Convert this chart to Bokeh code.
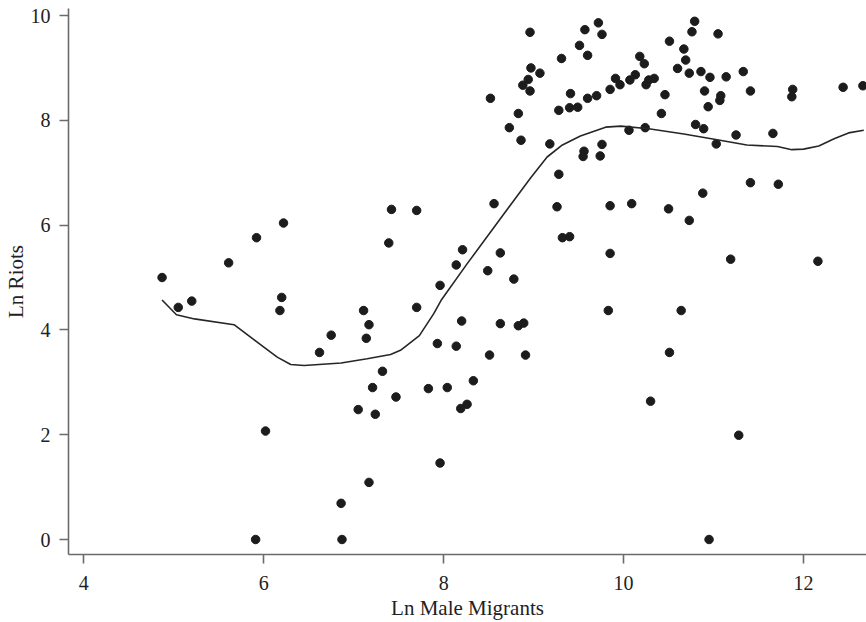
from bokeh.plotting import figure
from bokeh.models import Range1d, FixedTicker
from bokeh.embed import file_html
from bokeh.resources import INLINE

# ---- data ----
migrants = [4.87, 5.05, 5.20, 5.61, 5.92, 5.91, 6.02, 6.22, 6.20, 6.18,
            6.75, 6.62, 6.86, 6.87, 7.17, 7.96, 7.42, 7.70, 7.39, 8.56,
            8.21, 8.14, 7.96, 7.70, 8.63, 8.49, 7.11, 7.17, 7.14, 8.20,
            7.93, 8.14, 8.51, 8.63, 7.32, 7.21, 7.47, 7.83, 8.04, 8.33,
            8.19, 8.26, 7.05, 7.24, 8.91, 8.83, 8.89, 8.78, 8.96, 8.52,
            8.83, 8.73, 8.86, 9.18, 9.28, 8.97, 9.07, 8.94, 8.88, 8.96,
            9.31, 9.51, 9.57, 9.72, 9.76, 9.60, 9.41, 9.28, 9.40, 9.49,
            9.60, 9.70, 9.85, 9.91, 9.96, 10.07, 10.13, 10.18, 10.23, 10.25,
            10.28, 10.34, 10.46, 10.42, 10.51, 10.60, 10.06, 10.24, 9.56, 9.55,
            9.76, 9.74, 10.67, 10.69, 10.73, 10.76, 10.79, 10.86, 10.96, 10.90,
            11.05, 11.14, 11.33, 11.08, 11.07, 10.94, 11.41, 11.88, 11.87, 12.44,
            12.66, 10.80, 10.89, 11.03, 11.25, 11.66, 9.26, 9.85, 10.09, 10.50,
            10.73, 10.88, 11.41, 11.72, 9.32, 9.40, 9.85, 11.19, 12.16, 9.83,
            10.64, 10.51, 10.30, 11.28, 10.95]
riots = [5.00, 4.43, 4.55, 5.28, 5.76, 0.00, 2.07, 6.04, 4.62, 4.37,
         3.90, 3.57, 0.69, 0.00, 1.09, 1.46, 6.30, 6.28, 5.66, 6.41,
         5.53, 5.24, 4.85, 4.43, 5.47, 5.13, 4.37, 4.10, 3.84, 4.17,
         3.74, 3.69, 3.52, 4.12, 3.21, 2.90, 2.72, 2.88, 2.90, 3.03,
         2.50, 2.58, 2.48, 2.39, 3.52, 4.08, 4.13, 4.97, 9.68, 8.42,
         8.13, 7.86, 7.62, 7.55, 6.97, 9.00, 8.90, 8.78, 8.67, 8.56,
         9.18, 9.43, 9.73, 9.86, 9.64, 9.24, 8.51, 8.19, 8.24, 8.25,
         8.42, 8.47, 8.59, 8.80, 8.68, 8.77, 8.87, 9.22, 9.08, 8.68,
         8.77, 8.80, 8.49, 8.13, 9.51, 8.99, 7.81, 7.86, 7.41, 7.31,
         7.54, 7.32, 9.36, 9.15, 8.90, 9.69, 9.89, 8.93, 8.82, 8.56,
         9.65, 8.83, 8.93, 8.47, 8.38, 8.26, 8.56, 8.59, 8.45, 8.63,
         8.66, 7.92, 7.84, 7.55, 7.72, 7.75, 6.35, 6.37, 6.41, 6.31,
         6.09, 6.61, 6.81, 6.78, 5.76, 5.78, 5.46, 5.35, 5.31, 4.37,
         4.37, 3.57, 2.64, 1.99, 0.00]

smooth_x = [4.87, 5.03, 5.23, 5.67, 6.15, 6.30, 6.45, 6.86, 7.15, 7.41,
            7.52, 7.73, 7.89, 7.97, 8.26, 8.63, 8.78, 8.97, 9.15, 9.32,
            9.52, 9.80, 9.97, 10.28, 10.67, 11.04, 11.37, 11.71, 11.87, 12.00,
            12.17, 12.34, 12.50, 12.67]
smooth_y = [4.57, 4.29, 4.21, 4.10, 3.48, 3.34, 3.32, 3.37, 3.45, 3.53,
            3.61, 3.89, 4.31, 4.56, 5.26, 6.12, 6.47, 6.91, 7.30, 7.53,
            7.70, 7.87, 7.89, 7.84, 7.74, 7.63, 7.53, 7.50, 7.44, 7.45,
            7.51, 7.65, 7.76, 7.81]

x_ticks = [4, 6, 8, 10, 12]
y_ticks = [0, 2, 4, 6, 8, 10]
x_title = "Ln Male Migrants"
y_title = "Ln Riots"

FONT = "Liberation Serif"

p = figure(frame_width=798, frame_height=546,
           x_range=Range1d(3.83, 12.70), y_range=Range1d(-0.286, 10.134),
           output_backend="svg", toolbar_location=None,
           min_border_left=68, min_border_right=0, min_border_top=8,
           min_border_bottom=0)

p.xgrid.visible = False
p.ygrid.visible = False
p.outline_line_color = None
p.background_fill_color = "white"
p.border_fill_color = "white"

for ax in (p.xaxis[0], p.yaxis[0]):
    ax.axis_line_color = "#6b6b6b"
    ax.axis_line_width = 1.6
    ax.major_tick_line_color = "#6b6b6b"
    ax.major_tick_line_width = 1.6
    ax.major_tick_in = 0
    ax.major_tick_out = 9
    ax.minor_tick_line_color = None
    ax.major_label_text_font = FONT
    ax.major_label_text_font_size = "20px"
    ax.major_label_text_color = "#222222"
    ax.axis_label_text_font = FONT
    ax.axis_label_text_font_size = "21px"
    ax.axis_label_text_font_style = "normal"
    ax.axis_label_text_color = "#222222"

p.xaxis.ticker = FixedTicker(ticks=x_ticks)
p.yaxis.ticker = FixedTicker(ticks=y_ticks)
p.xaxis.axis_label = x_title
p.yaxis.axis_label = y_title
p.yaxis.major_label_orientation = "horizontal"
p.yaxis.major_label_standoff = 9
p.yaxis.axis_label_standoff = 0
p.xaxis.major_label_standoff = 12
p.xaxis.axis_label_standoff = 3

p.scatter(migrants, riots, size=8.5, fill_color="#1c1c1c", line_color="#1c1c1c")
p.line(smooth_x, smooth_y, line_color="#262626", line_width=1.6)

open("out.html", "w").write(file_html(p, INLINE))
